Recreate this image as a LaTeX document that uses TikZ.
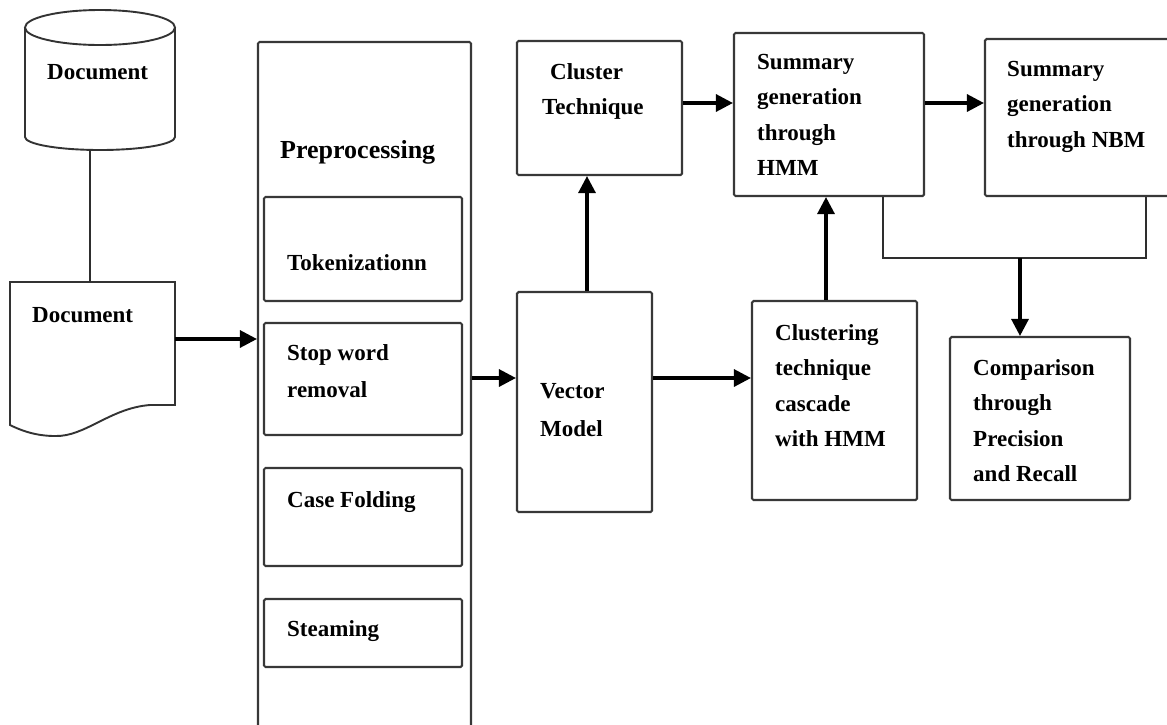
\documentclass[tikz,border=0pt]{standalone}
\usepackage{fontspec}
\setmainfont{Liberation Serif}
\usetikzlibrary{arrows.meta,calc}

% box from (x1,y1) to (x2,y2), pixel-style coordinates
\newcommand\mkbox[5]{%
  \node[procbox, minimum width={(#4-#2)*1pt}, minimum height={(#5-#3)*1pt}]
    (#1) at ({(#2+#4)/2},{(#3+#5)/2}) {};}

\begin{document}
\begin{tikzpicture}[x=1pt,y=-1pt,
  procbox/.style={draw=black!78, line width=2.1pt, rounded corners=1.5pt, inner sep=0pt},
  shapeline/.style={draw=black!80, line width=1.9pt},
  plainline/.style={draw=black!82, line width=2.2pt},
  arr/.style={draw=black, line width=3.2pt, -{Triangle[length=17pt,width=17pt]}},
  txt/.style={font=\fontsize{23}{35.5}\selectfont\bfseries, inner sep=0pt, anchor=north west,
              align=left, execute at begin node=\rule{0pt}{16pt}},
]
\useasboundingbox (0,0) rectangle (1167,724);
\clip (0,0) rectangle (1167,724);
\fill[white] (0,0) rectangle (1167,724);

% database cylinder
\draw[shapeline] (100,27.5) ellipse [x radius=75pt, y radius=17.5pt];
\draw[shapeline] (25,27.5) -- (25,137) arc[start angle=180, end angle=360, x radius=75pt, y radius=13pt] -- (175,27.5);
\coordinate (cylbot) at (90,150);
\node[txt] (tcyl) at (47,63) {Document};

% document sheet with wavy bottom
\draw[shapeline] (10,282) -- (175,282) -- (175,405) -- (150,405)
  .. controls (110,408) and (85,437) .. (55,436)
  .. controls (35,436) and (20,430) .. (10,425) -- cycle;
\coordinate (doctop) at (90,282);
\coordinate (docE) at (175,339);
\node[txt] (tdoc) at (32,306) {Document};

% preprocessing column
\mkbox{pre}{258}{42}{471}{760}
\mkbox{tok}{264}{197}{462}{301}
\mkbox{stop}{264}{323}{462}{435}
\mkbox{case}{264}{468}{462}{566}
\mkbox{steam}{264}{599}{462}{667}
\node[txt, font=\fontsize{26}{30}\selectfont\bfseries] (tpre) at (280,140) {Preprocessing};
\node[txt] (ttok) at (287,254) {Tokenizationn};
\node[txt, font=\fontsize{23}{37}\selectfont\bfseries] (tstop) at (287,344) {Stop word\\removal};
\node[txt] (tcase) at (287,491) {Case Folding};
\node[txt] (tsteam) at (287,620) {Steaming};

% remaining stages
\mkbox{vec}{517}{292}{652}{512}
\mkbox{clt}{517}{41}{682}{175}
\mkbox{hmm}{734}{33}{924}{196}
\mkbox{nbm}{985}{39}{1190}{196}
\mkbox{clg}{752}{301}{917}{500}
\mkbox{cmp}{950}{337}{1130}{500}
\node[txt, font=\fontsize{23}{38}\selectfont\bfseries] (tvec) at (540,383) {Vector\\Model};
\node[txt] (tclt) at (542,63) {\hspace*{8pt}Cluster\\Technique};
\node[txt] (thmm) at (757,54) {Summary\\generation\\through\\HMM};
\node[txt] (tnbm) at (1007,61) {Summary\\generation\\through NBM};
\node[txt] (tclg) at (775,324) {Clustering\\technique\\cascade\\with HMM};
\node[txt] (tcmp) at (973,359) {Comparison\\through\\Precision\\and Recall};

% helper rows and columns for connectors
\coordinate (rowA) at (0,103);
\coordinate (rowB) at (0,378);
\coordinate (colV) at (587,0);
\coordinate (colC) at (826,0);
\coordinate (colL) at (883,0);
\coordinate (colR) at (1146,0);
\coordinate (join) at (1020,258);

% connectors
\draw[plainline] (cylbot) -- (doctop);
\draw[arr] (docE) -- (pre.west |- docE);
\draw[arr] (pre.east |- rowB) -- (vec.west |- rowB);
\draw[arr] (vec.north -| colV) -- (clt.south -| colV);
\draw[arr] (clt.east |- rowA) -- (hmm.west |- rowA);
\draw[arr] (hmm.east |- rowA) -- (nbm.west |- rowA);
\draw[arr] (vec.east |- rowB) -- (clg.west |- rowB);
\draw[arr] (clg.north -| colC) -- (hmm.south -| colC);
\draw[plainline] (hmm.south -| colL) -- (colL |- join) -- (colR |- join) -- (nbm.south -| colR);
\draw[arr] (join) -- (cmp.north -| join);
\end{tikzpicture}
\end{document}
